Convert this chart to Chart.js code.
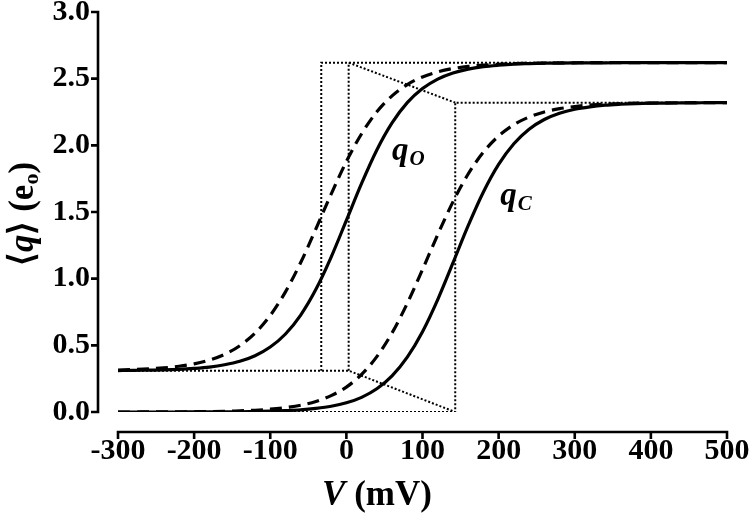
<!DOCTYPE html>
<html>
<head>
<meta charset="utf-8">
<script src="https://cdn.jsdelivr.net/npm/chart.js@4.4.1/dist/chart.umd.min.js"></script>
<style>
  html, body { margin: 0; padding: 0; background: #fff; }
  #wrap { width: 750px; height: 522px; position: relative; }
</style>
</head>
<body>
<div id="wrap"><canvas id="c" width="750" height="522"></canvas></div>
<script>
// Membrane voltage (mV)
const voltages = [-300,-280,-260,-240,-220,-200,-180,-160,-140,-120,-100,-80,-60,-40,-20,0,20,40,60,80,100,120,140,160,180,200,220,240,260,280,300,320,340,360,380,400,420,440,460,480,500];
// q_O solid
const qOSolid = [0.311,0.312,0.314,0.316,0.320,0.327,0.337,0.354,0.380,0.422,0.487,0.585,0.727,0.920,1.162,1.437,1.714,1.965,2.168,2.320,2.426,2.497,2.543,2.572,2.590,2.601,2.609,2.613,2.616,2.617,2.618,2.619,2.619,2.620,2.620,2.620,2.620,2.620,2.620,2.620,2.620];
// q_O dashed
const qODashed = [0.315,0.318,0.323,0.331,0.343,0.361,0.389,0.432,0.497,0.591,0.724,0.901,1.121,1.374,1.634,1.879,2.087,2.251,2.371,2.456,2.513,2.551,2.576,2.592,2.602,2.608,2.613,2.615,2.617,2.618,2.619,2.620,2.620,2.620,2.620,2.620,2.620,2.620,2.620,2.620,2.620];
// q_C solid
const qCSolid = [0.000,0.000,0.000,0.000,0.000,0.001,0.001,0.001,0.002,0.004,0.006,0.010,0.016,0.027,0.043,0.069,0.110,0.174,0.271,0.411,0.602,0.843,1.118,1.397,1.650,1.857,2.012,2.121,2.194,2.241,2.271,2.289,2.301,2.308,2.313,2.316,2.317,2.318,2.319,2.320,2.320];
// q_C dashed
const qCDashed = [0.000,0.000,0.001,0.001,0.001,0.002,0.003,0.005,0.009,0.013,0.021,0.033,0.051,0.079,0.123,0.187,0.282,0.415,0.593,0.815,1.068,1.330,1.576,1.785,1.949,2.070,2.155,2.212,2.250,2.275,2.291,2.302,2.308,2.313,2.316,2.317,2.318,2.319,2.320,2.320,2.320];

// guide-line values
const guideV = [-33, 3, 143];           // vertical guide voltages
const levelsO = [0.31, 2.62];           // q_O min / max
const levelsC = [0.00, 2.32];           // q_C min / max
const xRange = [-300, 500];
const yRange = [0, 3];
const xTicks = [-300,-200,-100,0,100,200,300,400,500];
const yTicks = [0.0,0.5,1.0,1.5,2.0,2.5,3.0];

const pts = (ys) => voltages.map((v, i) => ({x: v, y: ys[i]}));

const guides = [
  [{x: xRange[0], y: levelsO[0]}, {x: guideV[1], y: levelsO[0]}, {x: guideV[2], y: levelsC[0]}],
  [{x: xRange[0], y: levelsC[0]}, {x: guideV[2], y: levelsC[0]}, {x: guideV[2], y: levelsC[1]}, {x: xRange[1], y: levelsC[1]}],
  [{x: xRange[1], y: levelsO[1]}, {x: guideV[0], y: levelsO[1]}, {x: guideV[0], y: levelsO[0]}],
  [{x: guideV[1], y: levelsO[0]}, {x: guideV[1], y: levelsO[1]}, {x: guideV[2], y: levelsC[1]}]
];

const FONT = "'Liberation Serif', 'Times New Roman', serif";

const datasets = [];
guides.forEach(g => datasets.push({
  data: g, borderColor: '#000', borderWidth: 2, borderDash: [2, 2],
  pointRadius: 0, tension: 0, fill: false, order: 5
}));
[[qODashed, true], [qCDashed, true], [qOSolid, false], [qCSolid, false]].forEach(([d, dashed]) => datasets.push({
  data: pts(d), borderColor: '#000', borderWidth: 3.2, borderDash: dashed ? [12, 7] : [],
  pointRadius: 0, cubicInterpolationMode: 'monotone', fill: false, order: 1
}));

const decor = {
  id: 'decor',
  afterDraw(chart) {
    const {ctx, scales: {x, y}} = chart;
    ctx.save();
    ctx.strokeStyle = '#000';
    ctx.fillStyle = '#000';
    ctx.lineWidth = 2.6;
    // y axis (offset to the left)
    const ax = x.left - 20;
    const yTop = y.getPixelForValue(yRange[1]), yBot = y.getPixelForValue(yRange[0]);
    ctx.beginPath();
    ctx.moveTo(ax, yTop - 1.3); ctx.lineTo(ax, yBot + 1.3);
    yTicks.forEach(t => { const py = y.getPixelForValue(t); ctx.moveTo(ax - 7, py); ctx.lineTo(ax, py); });
    ctx.stroke();
    // x axis (offset below)
    const ay = y.bottom + 20;
    const xL = x.getPixelForValue(xRange[0]), xR = x.getPixelForValue(xRange[1]);
    ctx.beginPath();
    ctx.moveTo(xL - 1.3, ay); ctx.lineTo(xR + 1.3, ay);
    xTicks.forEach(t => { const px = x.getPixelForValue(t); ctx.moveTo(px, ay); ctx.lineTo(px, ay + 7); });
    ctx.stroke();

    // x title: V (mV)
    ctx.textBaseline = 'alphabetic';
    ctx.textAlign = 'left';
    const fI = "italic bold 35px " + FONT, fB = "bold 35px " + FONT;
    ctx.font = fI; const w1 = ctx.measureText('V').width;
    ctx.font = fB; const w2 = ctx.measureText(' (mV)').width;
    let sx = 377 - (w1 + w2) / 2;
    ctx.font = fI; ctx.fillText('V', sx, 505);
    ctx.font = fB; ctx.fillText(' (mV)', sx + w1, 505);

    // y title: <q> (e0)
    ctx.save();
    ctx.translate(33, 214);
    ctx.rotate(-Math.PI / 2);
    const parts = [
      {t: '\u27E8', f: "bold 35px " + FONT, dy: 0},
      {t: 'q', f: "italic bold 35px " + FONT, dy: 0},
      {t: '\u27E9 (e', f: "bold 35px " + FONT, dy: 0},
      {t: 'o', f: "bold 22px " + FONT, dy: 5},
      {t: ')', f: "bold 35px " + FONT, dy: 0}
    ];
    let tw = 0;
    parts.forEach(p => { ctx.font = p.f; p.w = ctx.measureText(p.t).width; tw += p.w; });
    let cx = -tw / 2;
    parts.forEach(p => { ctx.font = p.f; ctx.fillText(p.t, cx, p.dy); cx += p.w; });
    ctx.restore();

    // curve labels
    const lab = (sub, vx, vy) => {
      const px = x.getPixelForValue(vx), py = y.getPixelForValue(vy);
      ctx.font = "italic bold 33px " + FONT;
      ctx.fillText('q', px, py);
      const wq = ctx.measureText('q').width;
      ctx.font = "italic bold 21px " + FONT;
      ctx.fillText(sub, px + wq + 1, py + 5);
    };
    lab('O', 60, 1.89);
    lab('C', 202, 1.55);
    ctx.restore();
  }
};

new Chart(document.getElementById('c'), {
  type: 'line',
  data: { datasets },
  options: {
    responsive: false,
    animation: false,
    events: [],
    layout: { padding: { top: 12, right: 23, left: 0, bottom: 0 } },
    plugins: { legend: { display: false }, tooltip: { enabled: false }, title: { display: false } },
    scales: {
      x: {
        type: 'linear', min: xRange[0], max: xRange[1],
        afterFit: s => { s.height = 110; s.paddingLeft = 0; s.paddingRight = 0; },
        afterBuildTicks: s => { s.ticks = xTicks.map(v => ({value: v})); },
        grid: { display: false, drawTicks: false }, border: { display: false },
        ticks: { padding: 24, color: '#000', font: { family: FONT, weight: 'bold', size: 30, lineHeight: 1 }, maxRotation: 0, autoSkip: false }
      },
      y: {
        type: 'linear', min: yRange[0], max: yRange[1],
        afterFit: s => { s.width = 118; s.paddingTop = 0; s.paddingBottom = 0; },
        afterBuildTicks: s => { s.ticks = yTicks.map(v => ({value: v})); },
        grid: { display: false, drawTicks: false }, border: { display: false },
        ticks: { padding: 28, color: '#000', font: { family: FONT, weight: 'bold', size: 30, lineHeight: 1 }, callback: v => Number(v).toFixed(1) }
      }
    }
  },
  plugins: [decor]
});
</script>
</body>
</html>
